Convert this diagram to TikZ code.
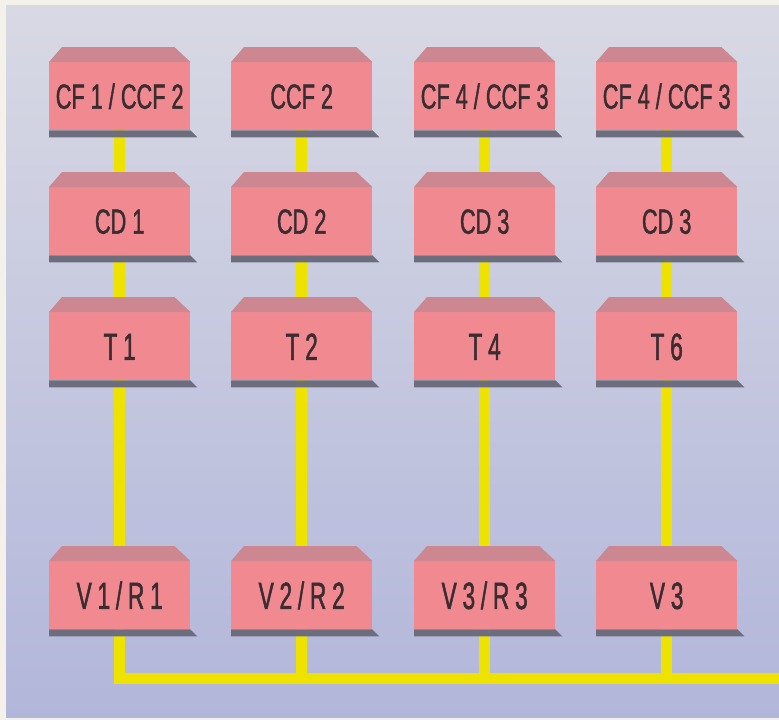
\documentclass[tikz,border=0pt]{standalone}
\usepackage{fontspec}
\newfontfamily\labA[FakeStretch=0.62,FakeBold=1.2]{Liberation Sans}
\newfontfamily\labB[FakeStretch=0.6,FakeBold=1.2,LetterSpace=15]{Liberation Sans}
\usetikzlibrary{calc}
\pgfdeclarelayer{back}\pgfdeclarelayer{bg}
\pgfsetlayers{back,bg,main}
\definecolor{offwhite}{HTML}{F3F1EA}
\definecolor{paneltop}{HTML}{D8D9E4}
\definecolor{panelbot}{HTML}{B2B6DA}
\definecolor{boxpink}{HTML}{F08A90}
\definecolor{bevelc}{HTML}{CC8790}
\definecolor{shadowc}{HTML}{6C6E7E}
\definecolor{textdark}{HTML}{3A2C30}
\definecolor{liney}{HTML}{EEE200}
\tikzset{
  tbox/.style={fill=boxpink, minimum width=141pt, minimum height=68pt, inner sep=0pt,
    text=textdark, anchor=north west, text depth=0pt},
  rowa/.style={tbox, font=\labA\fontsize{35}{35}\selectfont, text height=25pt},
  rowb/.style={tbox, font=\labB\fontsize{38}{38}\selectfont, text height=27.5pt},
  conn/.style={draw=liney, line width=11pt, line join=miter},
}
\newcommand\bevelbox[1]{%
  \fill[bevelc] (#1.north west) -- ++(13,-15) -- ($(#1.north east)+(-16,-15)$) -- (#1.north east) -- cycle;
  \fill[shadowc] (#1.south west) -- (#1.south east) -- ++(7,7) -- ($(#1.south west)+(0,7)$) -- cycle;}
\begin{document}
\begin{tikzpicture}[x=1pt,y=-1pt]
\useasboundingbox (0,0) rectangle (779,720);
\begin{pgfonlayer}{back}
  \fill[offwhite] (0,0) rectangle (779,720);
  \shade[top color=paneltop, bottom color=panelbot] (6,5) rectangle (779,717);
\end{pgfonlayer}
% row 1
\node[rowa] (a1) at (49,62) {CF 1 / CCF 2};
\node[rowa] (a2) at (231,62) {CCF 2};
\node[rowa] (a3) at (414,62) {CF 4 / CCF 3};
\node[rowa] (a4) at (596,62) {CF 4 / CCF 3};
% row 2
\node[rowa] (b1) at (49,187) {CD 1};
\node[rowa] (b2) at (231,187) {CD 2};
\node[rowa] (b3) at (414,187) {CD 3};
\node[rowa] (b4) at (596,187) {CD 3};
% row 3
\node[rowb] (c1) at (49,312) {T1};
\node[rowb] (c2) at (231,312) {T2};
\node[rowb] (c3) at (414,312) {T4};
\node[rowb] (c4) at (596,312) {T6};
% row 4
\node[rowb] (d1) at (49,561) {V1/R1};
\node[rowb] (d2) at (231,561) {V2/R2};
\node[rowb] (d3) at (414,561) {V3/R3};
\node[rowb] (d4) at (596,561) {V3};
\foreach \n in {a1,a2,a3,a4,b1,b2,b3,b4,c1,c2,c3,c4,d1,d2,d3,d4}{\bevelbox{\n}}
\coordinate (h1) at (d1.south |- 0,678);
\coordinate (h2) at (d2.south |- 0,678);
\coordinate (h3) at (d3.south |- 0,678);
\coordinate (h4) at (d4.south |- 0,678);
\coordinate (hend) at (779,678);
\begin{pgfonlayer}{bg}
  \foreach \i in {1,2,3,4}{
    \draw[conn] (a\i.south) -- (b\i.north);
    \draw[conn] (b\i.south) -- (c\i.north);
    \draw[conn] (c\i.south) -- (d\i.north);
  }
  \draw[conn] (d1.south) -- (h1) -- (hend);
  \draw[conn] (d2.south) -- (h2);
  \draw[conn] (d3.south) -- (h3);
  \draw[conn] (d4.south) -- (h4);
\end{pgfonlayer}
\end{tikzpicture}
\end{document}
